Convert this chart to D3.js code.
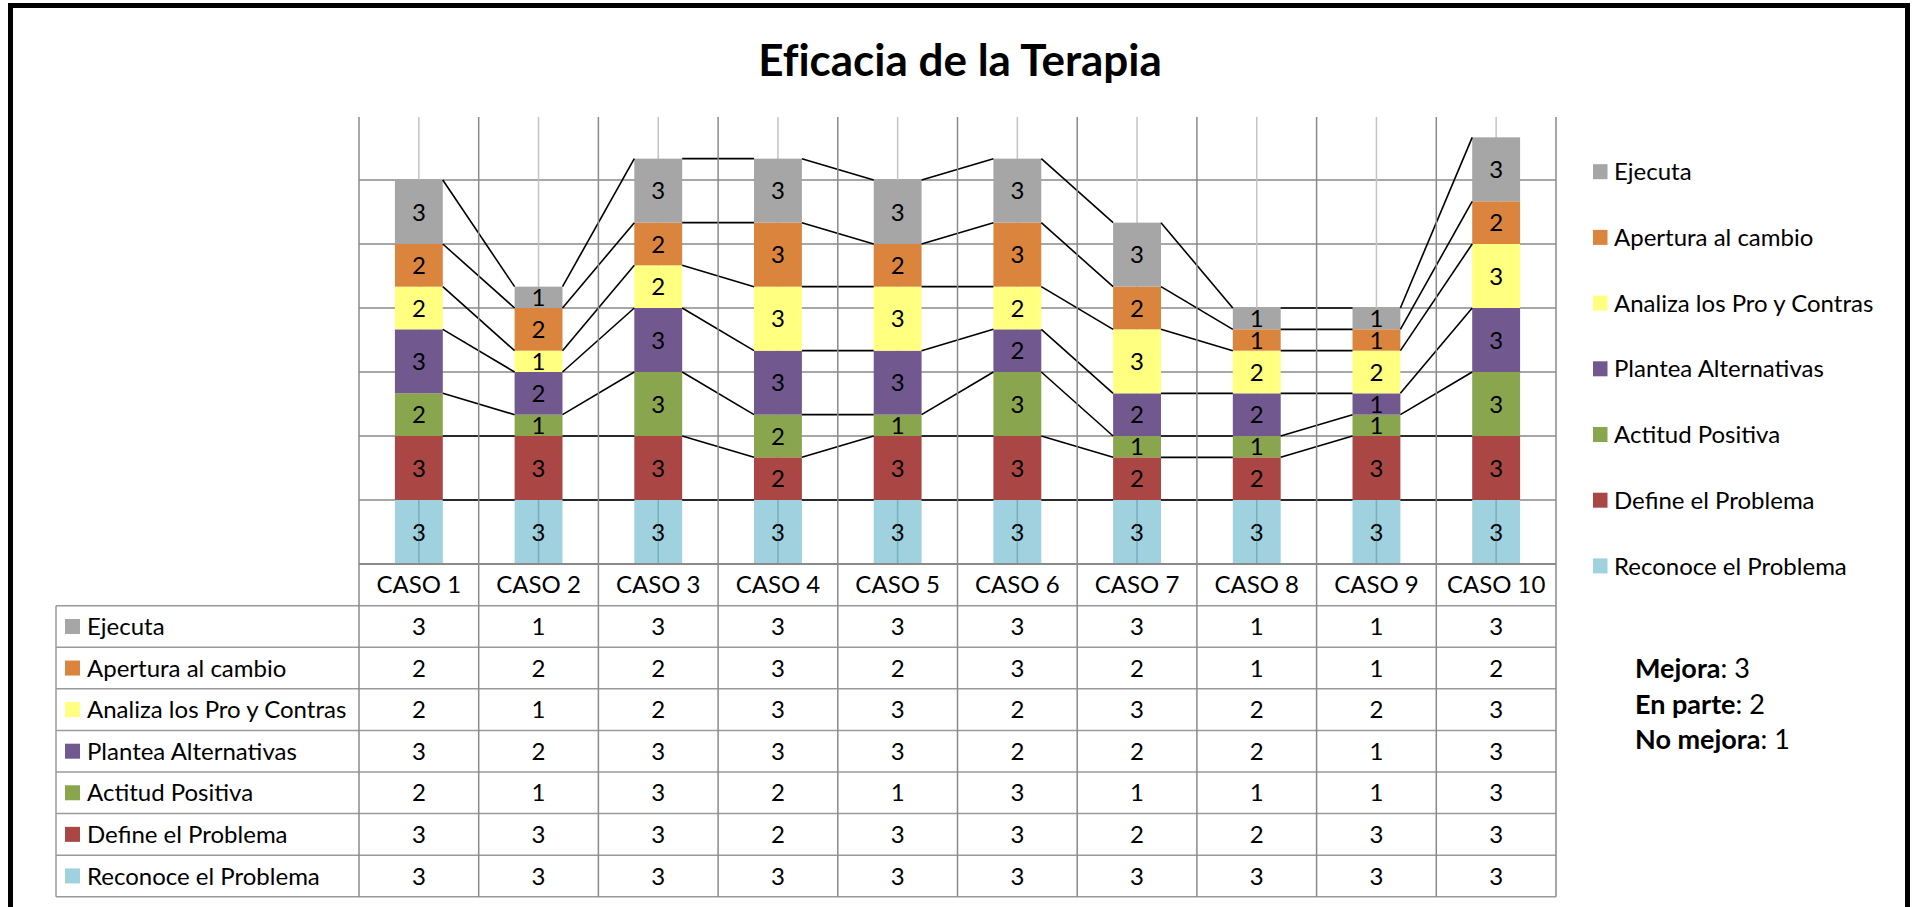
<!DOCTYPE html>
<html>
<head>
<meta charset="utf-8">
<script src="https://cdn.jsdelivr.net/npm/d3@7"></script>
<style>
  body { margin: 0; background: #fff; }
  svg text { font-family: Lato, "Open Sans", sans-serif; fill: #000; }
</style>
</head>
<body>
<div id="chart"></div>
<script>
var cases = ["CASO 1", "CASO 2", "CASO 3", "CASO 4", "CASO 5", "CASO 6", "CASO 7", "CASO 8", "CASO 9", "CASO 10"];

// stacking order, bottom to top
var series_names = ["Reconoce el Problema", "Define el Problema", "Actitud Positiva",
  "Plantea Alternativas", "Analiza los Pro y Contras", "Apertura al cambio", "Ejecuta"];
var series_colors = ["#9fd1de", "#aa4643", "#89a54e", "#71588f", "#ffff80", "#db843d", "#a6a6a6"];

var reconoce = [3, 3, 3, 3, 3, 3, 3, 3, 3, 3];
var define   = [3, 3, 3, 2, 3, 3, 2, 2, 3, 3];
var actitud  = [2, 1, 3, 2, 1, 3, 1, 1, 1, 3];
var plantea  = [3, 2, 3, 3, 3, 2, 2, 2, 1, 3];
var analiza  = [2, 1, 2, 3, 3, 2, 3, 2, 2, 3];
var apertura = [2, 2, 2, 3, 2, 3, 2, 1, 1, 2];
var ejecuta  = [3, 1, 3, 3, 3, 3, 3, 1, 1, 3];
var series_values = [reconoce, define, actitud, plantea, analiza, apertura, ejecuta];

var y_ticks = [0, 3, 6, 9, 12, 15, 18];
var notes = [["Mejora", ": 3"], ["En parte", ": 2"], ["No mejora", ": 1"]];

var W = 1912, H = 907;
var svg = d3.select("#chart").append("svg").attr("width", W).attr("height", H);

var plot_left = 359, plot_right = 1556, plot_top = 117, base_y = 564;
var table_left = 56, table_top = 605.7, table_bottom = 896.7;
var grid_dark = "#8a8a8a", grid_light = "#c4c4c4", table_line = "#9a9a9a";
var fs = 24;

var scalex = d3.scaleBand().domain(cases).range([plot_left, plot_right]);
var scaley = d3.scaleLinear().domain([0, 21]).range([base_y, base_y - 21 * 64 / 3]);
var bw = scalex.bandwidth() / 2.5;
function cx(c) { return scalex(c) + scalex.bandwidth() / 2; }

var rows = d3.range(series_names.length);
var table = cases.map(function (c, i) {
  var o = { caso: c };
  rows.forEach(function (s) { o[s] = series_values[s][i]; });
  return o;
});
var stacked = d3.stack().keys(rows)(table);

// horizontal gridlines
svg.append("g").selectAll("line")
  .data(y_ticks.slice(1))
  .enter().append("line")
  .attr("x1", plot_left).attr("x2", plot_right)
  .attr("y1", function (d) { return scaley(d); })
  .attr("y2", function (d) { return scaley(d); })
  .attr("stroke", grid_dark).attr("stroke-width", 1.5);

// light vertical lines at category centres
svg.append("g").selectAll("line")
  .data(cases)
  .enter().append("line")
  .attr("x1", cx).attr("x2", cx)
  .attr("y1", plot_top).attr("y2", base_y)
  .attr("stroke", grid_light).attr("stroke-width", 1.5);

// bars
var layers = svg.append("g").selectAll("g.layer")
  .data(stacked)
  .enter().append("g").attr("class", "layer")
  .attr("fill", function (d) { return series_colors[d.key]; });

layers.selectAll("rect")
  .data(function (d) { return d; })
  .enter().append("rect")
  .attr("x", function (d) { return cx(d.data.caso) - bw / 2; })
  .attr("y", function (d) { return scaley(d[1]); })
  .attr("width", bw)
  .attr("height", function (d) { return scaley(d[0]) - scaley(d[1]); });

// centre line shows through the bottom series
svg.append("g").selectAll("line")
  .data(cases)
  .enter().append("line")
  .attr("x1", cx).attr("x2", cx)
  .attr("y1", scaley(3)).attr("y2", base_y)
  .attr("stroke", "rgba(40,110,130,0.35)").attr("stroke-width", 1.5);

// series lines between bars
var seg = [];
stacked.forEach(function (layer) {
  for (var i = 0; i < layer.length - 1; i++)
    seg.push([layer[i], layer[i + 1]]);
});
svg.append("g").selectAll("line")
  .data(seg)
  .enter().append("line")
  .attr("x1", function (d) { return cx(d[0].data.caso) + bw / 2; })
  .attr("y1", function (d) { return scaley(d[0][1]); })
  .attr("x2", function (d) { return cx(d[1].data.caso) - bw / 2; })
  .attr("y2", function (d) { return scaley(d[1][1]); })
  .attr("stroke", "#000").attr("stroke-width", 1.6);

// data labels
layers.selectAll("text")
  .data(function (d) { return d; })
  .enter().append("text")
  .attr("x", function (d) { return cx(d.data.caso); })
  .attr("y", function (d) { return (scaley(d[0]) + scaley(d[1])) / 2; })
  .attr("dy", "0.36em")
  .attr("text-anchor", "middle")
  .attr("font-size", 24)
  .text(function (d) { return d[1] - d[0]; });

// category axis row
var cat = svg.append("g");
cat.selectAll("text")
  .data(cases)
  .enter().append("text")
  .attr("x", cx).attr("y", (base_y + table_top) / 2).attr("dy", "0.36em")
  .attr("text-anchor", "middle").attr("font-size", fs)
  .text(function (d) { return d; });

// data table
var scalerow = d3.scaleBand().domain(rows.slice().reverse()).range([table_top, table_bottom]);
var tg = svg.append("g");

tg.selectAll("line.row")
  .data(rows.slice().reverse())
  .enter().append("line").attr("class", "row")
  .attr("x1", table_left).attr("x2", plot_right)
  .attr("y1", function (d) { return scalerow(d) + scalerow.bandwidth(); })
  .attr("y2", function (d) { return scalerow(d) + scalerow.bandwidth(); })
  .attr("stroke", table_line).attr("stroke-width", 1.5);
tg.append("line")
  .attr("x1", table_left).attr("x2", plot_right)
  .attr("y1", table_top).attr("y2", table_top)
  .attr("stroke", table_line).attr("stroke-width", 1.5);
tg.append("line")
  .attr("x1", table_left).attr("x2", table_left)
  .attr("y1", table_top).attr("y2", table_bottom)
  .attr("stroke", table_line).attr("stroke-width", 1.5);

// category boundaries, running from top of plot through the table
var bounds = cases.map(function (c) { return scalex(c); }).concat([plot_right]);
svg.append("g").selectAll("line")
  .data(bounds)
  .enter().append("line")
  .attr("x1", function (d) { return d; }).attr("x2", function (d) { return d; })
  .attr("y1", plot_top).attr("y2", table_bottom)
  .attr("stroke", grid_dark).attr("stroke-width", 1.5);
svg.append("line")
  .attr("x1", plot_left).attr("x2", plot_right)
  .attr("y1", base_y).attr("y2", base_y)
  .attr("stroke", grid_dark).attr("stroke-width", 2);

var trow = tg.selectAll("g.trow")
  .data(rows.slice().reverse())
  .enter().append("g").attr("class", "trow")
  .attr("transform", function (d) { return "translate(0," + (scalerow(d) + scalerow.bandwidth() / 2) + ")"; });

trow.append("rect")
  .attr("x", 65).attr("y", -7.5).attr("width", 15).attr("height", 15)
  .attr("fill", function (d) { return series_colors[d]; });
trow.append("text")
  .attr("x", 87).attr("dy", "0.36em").attr("font-size", fs)
  .text(function (d) { return series_names[d]; });
trow.selectAll("text.v")
  .data(function (d) { return series_values[d]; })
  .enter().append("text").attr("class", "v")
  .attr("x", function (d, i) { return cx(cases[i]); })
  .attr("dy", "0.36em").attr("text-anchor", "middle").attr("font-size", fs)
  .text(function (d) { return d; });

// legend
var leg = svg.append("g").selectAll("g")
  .data(rows.slice().reverse())
  .enter().append("g")
  .attr("transform", function (d, i) { return "translate(1593," + (171.7 + i * 65.7) + ")"; });
leg.append("rect")
  .attr("x", 0).attr("y", -7.5).attr("width", 14.5).attr("height", 15)
  .attr("fill", function (d) { return series_colors[d]; });
leg.append("text")
  .attr("x", 21).attr("dy", "0.36em").attr("font-size", fs)
  .text(function (d) { return series_names[d]; });

// notes
var nt = svg.append("g").selectAll("text")
  .data(notes)
  .enter().append("text")
  .attr("x", 1635)
  .attr("y", function (d, i) { return 678 + i * 35.5; })
  .attr("font-size", 27);
nt.append("tspan").attr("font-weight", "bold").text(function (d) { return d[0]; });
nt.append("tspan").text(function (d) { return d[1]; });

// title
svg.append("text")
  .attr("x", 960).attr("y", 76)
  .attr("text-anchor", "middle")
  .attr("font-size", 44).attr("font-weight", "bold")
  .style("font-variant-ligatures", "none")
  .text("Eficacia de la Terapia");

// frame
svg.append("rect")
  .attr("x", 10.5).attr("y", 5.5)
  .attr("width", 1897).attr("height", 1000)
  .attr("fill", "none").attr("stroke", "#000").attr("stroke-width", 5);
</script>
</body>
</html>
